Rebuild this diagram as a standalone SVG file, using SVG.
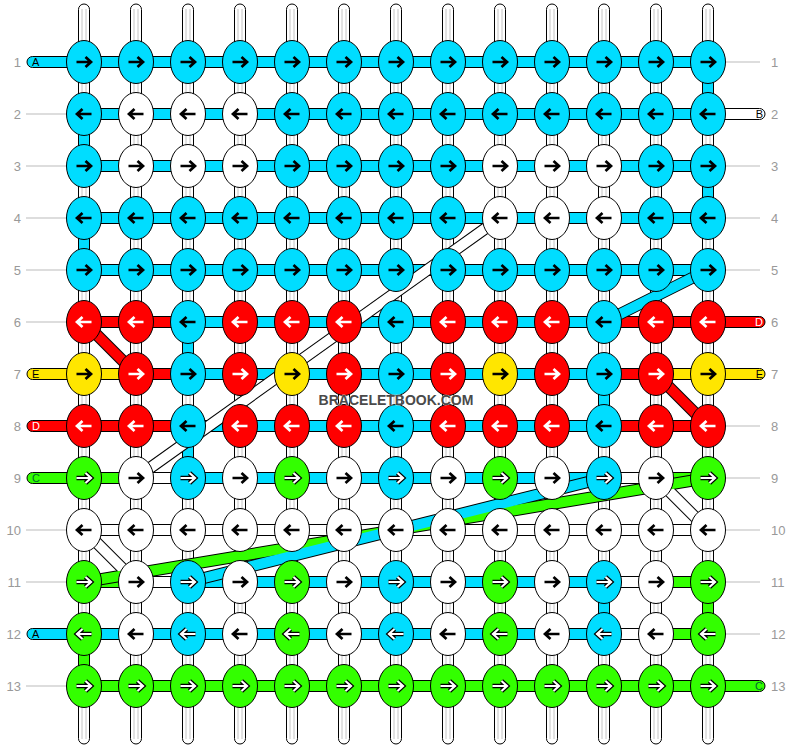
<svg xmlns="http://www.w3.org/2000/svg" xmlns:xlink="http://www.w3.org/1999/xlink" width="792" height="748" viewBox="0 0 792 748">
<style>
.C{fill:#00DDFF}.W{fill:#FFFFFF}.R{fill:#FF0000}.Y{fill:#FFE600}.G{fill:#33FF00}
.t{stroke:#000;stroke-width:1}
.ak{stroke:#000;stroke-width:2.7}.aw{stroke:#fff;stroke-width:2.7}
.gl{stroke:#bbb;stroke-width:1}
.vl{stroke:#c4c4c4;stroke-width:1}
.num{font-family:"Liberation Sans",Arial,sans-serif;font-size:13px;fill:#999}
.let{font-family:"Liberation Sans",Arial,sans-serif;font-size:11px}
.wm{font-family:"Liberation Sans",Arial,sans-serif;font-size:14px;font-weight:bold;fill:#4a4a4a}
</style>
<defs>
<ellipse id="kn" cx="0" cy="0" rx="17.5" ry="21.5" stroke="#000" stroke-width="1"/>
<path id="r" d="M-7.5,0H6.5M1.5,-5L7,0L1.5,5" fill="none"/>
<path id="l" d="M7.5,0H-6.5M-1.5,-5L-7,0L-1.5,5" fill="none"/>
<g id="ro"><use href="#r" stroke="#000" stroke-width="4.6"/><use href="#r" stroke="#fff" stroke-width="2.2"/></g>
<g id="lo"><use href="#l" stroke="#000" stroke-width="4.6"/><use href="#l" stroke="#fff" stroke-width="2.2"/></g>
<g id="vt"><rect x="-5.5" y="4" width="11" height="740" rx="5.5" fill="#fff" stroke="#000"/><line x1="-2" y1="9" x2="-2" y2="739" class="vl"/><line x1="2" y1="9" x2="2" y2="739" class="vl"/></g>
</defs>
<rect width="792" height="748" fill="#fff"/>

<g id="labels">
<g class="gl">
<line x1="26" y1="114" x2="68" y2="114"/><line x1="26" y1="166" x2="68" y2="166"/><line x1="26" y1="218" x2="68" y2="218"/><line x1="26" y1="270" x2="68" y2="270"/><line x1="26" y1="322" x2="68" y2="322"/><line x1="26" y1="530" x2="68" y2="530"/><line x1="26" y1="582" x2="68" y2="582"/><line x1="26" y1="686" x2="68" y2="686"/>
<line x1="724" y1="62" x2="760" y2="62"/><line x1="724" y1="166" x2="760" y2="166"/><line x1="724" y1="218" x2="760" y2="218"/><line x1="724" y1="270" x2="760" y2="270"/><line x1="724" y1="426" x2="760" y2="426"/><line x1="724" y1="478" x2="760" y2="478"/><line x1="724" y1="530" x2="760" y2="530"/><line x1="724" y1="582" x2="760" y2="582"/><line x1="724" y1="634" x2="760" y2="634"/>
</g>
<g class="num" text-anchor="end">
<text x="21" y="67">1</text><text x="21" y="119">2</text><text x="21" y="171">3</text><text x="21" y="223">4</text><text x="21" y="275">5</text><text x="21" y="327">6</text><text x="21" y="379">7</text><text x="21" y="431">8</text><text x="21" y="483">9</text><text x="21" y="535">10</text><text x="21" y="587">11</text><text x="21" y="639">12</text><text x="21" y="691">13</text>
</g>
<g class="num">
<text x="771" y="67">1</text><text x="771" y="119">2</text><text x="771" y="171">3</text><text x="771" y="223">4</text><text x="771" y="275">5</text><text x="771" y="327">6</text><text x="771" y="379">7</text><text x="771" y="431">8</text><text x="771" y="483">9</text><text x="771" y="535">10</text><text x="771" y="587">11</text><text x="771" y="639">12</text><text x="771" y="691">13</text>
</g>
</g>

<g id="connectors">
<g id="verticals">
<use href="#vt" x="84"/><use href="#vt" x="136"/><use href="#vt" x="188"/><use href="#vt" x="240"/><use href="#vt" x="292"/><use href="#vt" x="344"/><use href="#vt" x="396"/><use href="#vt" x="448"/><use href="#vt" x="500"/><use href="#vt" x="552"/><use href="#vt" x="604"/><use href="#vt" x="656"/><use href="#vt" x="708"/>
<g class="t">
<rect x="702.5" y="62" width="11" height="52" class="C"/>
<rect x="78.5" y="114" width="11" height="52" class="C"/>
<rect x="702.5" y="166" width="11" height="52" class="C"/>
<rect x="78.5" y="218" width="11" height="52" class="C"/>
<rect x="182.5" y="322" width="11" height="52" class="C"/>
<rect x="598.5" y="374" width="11" height="52" class="C"/>
<rect x="182.5" y="426" width="11" height="52" class="C"/>
<rect x="598.5" y="582" width="11" height="52" class="C"/>
<rect x="702.5" y="582" width="11" height="52" class="G"/>
<rect x="78.5" y="634" width="11" height="52" class="G"/>
</g>
</g>
<g id="tails" class="t">
<rect x="27" y="56.5" width="70" height="11" rx="5.5" class="C"/>
<rect x="695" y="108.5" width="70" height="11" rx="5.5" class="W"/>
<rect x="695" y="316.5" width="70" height="11" rx="5.5" class="R"/>
<rect x="27" y="368.5" width="70" height="11" rx="5.5" class="Y"/>
<rect x="695" y="368.5" width="70" height="11" rx="5.5" class="Y"/>
<rect x="27" y="420.5" width="70" height="11" rx="5.5" class="R"/>
<rect x="27" y="472.5" width="70" height="11" rx="5.5" class="G"/>
<rect x="27" y="628.5" width="70" height="11" rx="5.5" class="C"/>
<rect x="695" y="680.5" width="70" height="11" rx="5.5" class="G"/>
</g>
<g id="rows" class="t">
<rect x="84" y="56.5" width="624" height="11" class="C"/>
<rect x="84" y="108.5" width="624" height="11" class="C"/>
<rect x="84" y="160.5" width="624" height="11" class="C"/>
<rect x="84" y="212.5" width="624" height="11" class="C"/>
<rect x="84" y="264.5" width="624" height="11" class="C"/>
<rect x="84" y="316.5" width="104" height="11" class="R"/><rect x="188" y="316.5" width="416" height="11" class="C"/><rect x="604" y="316.5" width="104" height="11" class="R"/>
<rect x="84" y="368.5" width="52" height="11" class="Y"/><rect x="136" y="368.5" width="52" height="11" class="R"/><rect x="188" y="368.5" width="416" height="11" class="C"/><rect x="604" y="368.5" width="52" height="11" class="R"/><rect x="656" y="368.5" width="52" height="11" class="Y"/>
<rect x="84" y="420.5" width="104" height="11" class="R"/><rect x="188" y="420.5" width="416" height="11" class="C"/><rect x="604" y="420.5" width="104" height="11" class="R"/>
<rect x="84" y="472.5" width="52" height="11" class="G"/><rect x="136" y="472.5" width="52" height="11" class="W"/><rect x="188" y="472.5" width="416" height="11" class="C"/><rect x="604" y="472.5" width="52" height="11" class="W"/><rect x="656" y="472.5" width="52" height="11" class="G"/>
<rect x="84" y="524.5" width="624" height="11" class="W"/>
<rect x="84" y="576.5" width="52" height="11" class="G"/><rect x="136" y="576.5" width="52" height="11" class="W"/><rect x="188" y="576.5" width="416" height="11" class="C"/><rect x="604" y="576.5" width="52" height="11" class="W"/><rect x="656" y="576.5" width="52" height="11" class="G"/>
<rect x="84" y="628.5" width="520" height="11" class="C"/><rect x="604" y="628.5" width="52" height="11" class="W"/><rect x="656" y="628.5" width="52" height="11" class="G"/>
<rect x="84" y="680.5" width="624" height="11" class="G"/>
</g>
<g id="diagonals" fill="none">
<g stroke="#000" stroke-width="12">
<line x1="84" y1="322" x2="136" y2="374"/>
<line x1="656" y1="374" x2="708" y2="426"/>
<line x1="708" y1="270" x2="604" y2="322"/>
<line x1="500" y1="218" x2="136" y2="478"/>
<line x1="84" y1="530" x2="136" y2="582"/>
<line x1="656" y1="478" x2="708" y2="530"/>
<line x1="708" y1="478" x2="84" y2="582"/>
<line x1="604" y1="478" x2="188" y2="582"/>
</g>
<g stroke-width="10">
<line x1="84" y1="322" x2="136" y2="374" stroke="#FF0000"/>
<line x1="656" y1="374" x2="708" y2="426" stroke="#FF0000"/>
<line x1="708" y1="270" x2="604" y2="322" stroke="#00DDFF"/>
<line x1="500" y1="218" x2="136" y2="478" stroke="#fff"/>
<line x1="84" y1="530" x2="136" y2="582" stroke="#fff"/>
<line x1="656" y1="478" x2="708" y2="530" stroke="#fff"/>
<line x1="708" y1="478" x2="84" y2="582" stroke="#33FF00"/>
<line x1="604" y1="478" x2="188" y2="582" stroke="#00DDFF"/>
</g>
</g>
<g class="let">
<text x="32" y="66">A</text><text x="763" y="118" text-anchor="end">B</text><text x="763" y="326" text-anchor="end" fill="#fff">D</text><text x="32" y="378">E</text><text x="763" y="378" text-anchor="end">E</text><text x="32" y="430" fill="#fff">D</text><text x="32" y="482" fill="#063">C</text><text x="32" y="638">A</text><text x="763" y="690" text-anchor="end" fill="#063">C</text>
</g>
</g>

<g id="knots">
<g id="k1-1"><use href="#kn" x="84" y="62" class="C"/><use href="#r" x="84" y="62" class="ak"/></g>
<g id="k1-2"><use href="#kn" x="136" y="62" class="C"/><use href="#r" x="136" y="62" class="ak"/></g>
<g id="k1-3"><use href="#kn" x="188" y="62" class="C"/><use href="#r" x="188" y="62" class="ak"/></g>
<g id="k1-4"><use href="#kn" x="240" y="62" class="C"/><use href="#r" x="240" y="62" class="ak"/></g>
<g id="k1-5"><use href="#kn" x="292" y="62" class="C"/><use href="#r" x="292" y="62" class="ak"/></g>
<g id="k1-6"><use href="#kn" x="344" y="62" class="C"/><use href="#r" x="344" y="62" class="ak"/></g>
<g id="k1-7"><use href="#kn" x="396" y="62" class="C"/><use href="#r" x="396" y="62" class="ak"/></g>
<g id="k1-8"><use href="#kn" x="448" y="62" class="C"/><use href="#r" x="448" y="62" class="ak"/></g>
<g id="k1-9"><use href="#kn" x="500" y="62" class="C"/><use href="#r" x="500" y="62" class="ak"/></g>
<g id="k1-10"><use href="#kn" x="552" y="62" class="C"/><use href="#r" x="552" y="62" class="ak"/></g>
<g id="k1-11"><use href="#kn" x="604" y="62" class="C"/><use href="#r" x="604" y="62" class="ak"/></g>
<g id="k1-12"><use href="#kn" x="656" y="62" class="C"/><use href="#r" x="656" y="62" class="ak"/></g>
<g id="k1-13"><use href="#kn" x="708" y="62" class="C"/><use href="#r" x="708" y="62" class="ak"/></g>

<g id="k2-1"><use href="#kn" x="84" y="114" class="C"/><use href="#l" x="84" y="114" class="ak"/></g>
<g id="k2-2"><use href="#kn" x="136" y="114" class="W"/><use href="#l" x="136" y="114" class="ak"/></g>
<g id="k2-3"><use href="#kn" x="188" y="114" class="W"/><use href="#l" x="188" y="114" class="ak"/></g>
<g id="k2-4"><use href="#kn" x="240" y="114" class="W"/><use href="#l" x="240" y="114" class="ak"/></g>
<g id="k2-5"><use href="#kn" x="292" y="114" class="C"/><use href="#l" x="292" y="114" class="ak"/></g>
<g id="k2-6"><use href="#kn" x="344" y="114" class="C"/><use href="#l" x="344" y="114" class="ak"/></g>
<g id="k2-7"><use href="#kn" x="396" y="114" class="C"/><use href="#l" x="396" y="114" class="ak"/></g>
<g id="k2-8"><use href="#kn" x="448" y="114" class="C"/><use href="#l" x="448" y="114" class="ak"/></g>
<g id="k2-9"><use href="#kn" x="500" y="114" class="C"/><use href="#l" x="500" y="114" class="ak"/></g>
<g id="k2-10"><use href="#kn" x="552" y="114" class="C"/><use href="#l" x="552" y="114" class="ak"/></g>
<g id="k2-11"><use href="#kn" x="604" y="114" class="C"/><use href="#l" x="604" y="114" class="ak"/></g>
<g id="k2-12"><use href="#kn" x="656" y="114" class="C"/><use href="#l" x="656" y="114" class="ak"/></g>
<g id="k2-13"><use href="#kn" x="708" y="114" class="C"/><use href="#l" x="708" y="114" class="ak"/></g>

<g id="k3-1"><use href="#kn" x="84" y="166" class="C"/><use href="#r" x="84" y="166" class="ak"/></g>
<g id="k3-2"><use href="#kn" x="136" y="166" class="W"/><use href="#r" x="136" y="166" class="ak"/></g>
<g id="k3-3"><use href="#kn" x="188" y="166" class="W"/><use href="#r" x="188" y="166" class="ak"/></g>
<g id="k3-4"><use href="#kn" x="240" y="166" class="W"/><use href="#r" x="240" y="166" class="ak"/></g>
<g id="k3-5"><use href="#kn" x="292" y="166" class="C"/><use href="#r" x="292" y="166" class="ak"/></g>
<g id="k3-6"><use href="#kn" x="344" y="166" class="C"/><use href="#r" x="344" y="166" class="ak"/></g>
<g id="k3-7"><use href="#kn" x="396" y="166" class="C"/><use href="#r" x="396" y="166" class="ak"/></g>
<g id="k3-8"><use href="#kn" x="448" y="166" class="C"/><use href="#r" x="448" y="166" class="ak"/></g>
<g id="k3-9"><use href="#kn" x="500" y="166" class="W"/><use href="#r" x="500" y="166" class="ak"/></g>
<g id="k3-10"><use href="#kn" x="552" y="166" class="W"/><use href="#r" x="552" y="166" class="ak"/></g>
<g id="k3-11"><use href="#kn" x="604" y="166" class="W"/><use href="#r" x="604" y="166" class="ak"/></g>
<g id="k3-12"><use href="#kn" x="656" y="166" class="C"/><use href="#r" x="656" y="166" class="ak"/></g>
<g id="k3-13"><use href="#kn" x="708" y="166" class="C"/><use href="#r" x="708" y="166" class="ak"/></g>

<g id="k4-1"><use href="#kn" x="84" y="218" class="C"/><use href="#l" x="84" y="218" class="ak"/></g>
<g id="k4-2"><use href="#kn" x="136" y="218" class="C"/><use href="#l" x="136" y="218" class="ak"/></g>
<g id="k4-3"><use href="#kn" x="188" y="218" class="C"/><use href="#l" x="188" y="218" class="ak"/></g>
<g id="k4-4"><use href="#kn" x="240" y="218" class="C"/><use href="#l" x="240" y="218" class="ak"/></g>
<g id="k4-5"><use href="#kn" x="292" y="218" class="C"/><use href="#l" x="292" y="218" class="ak"/></g>
<g id="k4-6"><use href="#kn" x="344" y="218" class="C"/><use href="#l" x="344" y="218" class="ak"/></g>
<g id="k4-7"><use href="#kn" x="396" y="218" class="C"/><use href="#l" x="396" y="218" class="ak"/></g>
<g id="k4-8"><use href="#kn" x="448" y="218" class="C"/><use href="#l" x="448" y="218" class="ak"/></g>
<g id="k4-9"><use href="#kn" x="500" y="218" class="W"/><use href="#l" x="500" y="218" class="ak"/></g>
<g id="k4-10"><use href="#kn" x="552" y="218" class="W"/><use href="#l" x="552" y="218" class="ak"/></g>
<g id="k4-11"><use href="#kn" x="604" y="218" class="W"/><use href="#l" x="604" y="218" class="ak"/></g>
<g id="k4-12"><use href="#kn" x="656" y="218" class="C"/><use href="#l" x="656" y="218" class="ak"/></g>
<g id="k4-13"><use href="#kn" x="708" y="218" class="C"/><use href="#l" x="708" y="218" class="ak"/></g>

<g id="k5-1"><use href="#kn" x="84" y="270" class="C"/><use href="#r" x="84" y="270" class="ak"/></g>
<g id="k5-2"><use href="#kn" x="136" y="270" class="C"/><use href="#r" x="136" y="270" class="ak"/></g>
<g id="k5-3"><use href="#kn" x="188" y="270" class="C"/><use href="#r" x="188" y="270" class="ak"/></g>
<g id="k5-4"><use href="#kn" x="240" y="270" class="C"/><use href="#r" x="240" y="270" class="ak"/></g>
<g id="k5-5"><use href="#kn" x="292" y="270" class="C"/><use href="#r" x="292" y="270" class="ak"/></g>
<g id="k5-6"><use href="#kn" x="344" y="270" class="C"/><use href="#r" x="344" y="270" class="ak"/></g>
<g id="k5-7"><use href="#kn" x="396" y="270" class="C"/><use href="#r" x="396" y="270" class="ak"/></g>
<g id="k5-8"><use href="#kn" x="448" y="270" class="C"/><use href="#r" x="448" y="270" class="ak"/></g>
<g id="k5-9"><use href="#kn" x="500" y="270" class="C"/><use href="#r" x="500" y="270" class="ak"/></g>
<g id="k5-10"><use href="#kn" x="552" y="270" class="C"/><use href="#r" x="552" y="270" class="ak"/></g>
<g id="k5-11"><use href="#kn" x="604" y="270" class="C"/><use href="#r" x="604" y="270" class="ak"/></g>
<g id="k5-12"><use href="#kn" x="656" y="270" class="C"/><use href="#r" x="656" y="270" class="ak"/></g>
<g id="k5-13"><use href="#kn" x="708" y="270" class="C"/><use href="#r" x="708" y="270" class="ak"/></g>

<g id="k6-1"><use href="#kn" x="84" y="322" class="R"/><use href="#l" x="84" y="322" class="aw"/></g>
<g id="k6-2"><use href="#kn" x="136" y="322" class="R"/><use href="#l" x="136" y="322" class="aw"/></g>
<g id="k6-3"><use href="#kn" x="188" y="322" class="C"/><use href="#l" x="188" y="322" class="ak"/></g>
<g id="k6-4"><use href="#kn" x="240" y="322" class="R"/><use href="#l" x="240" y="322" class="aw"/></g>
<g id="k6-5"><use href="#kn" x="292" y="322" class="R"/><use href="#l" x="292" y="322" class="aw"/></g>
<g id="k6-6"><use href="#kn" x="344" y="322" class="R"/><use href="#l" x="344" y="322" class="aw"/></g>
<g id="k6-7"><use href="#kn" x="396" y="322" class="C"/><use href="#l" x="396" y="322" class="ak"/></g>
<g id="k6-8"><use href="#kn" x="448" y="322" class="R"/><use href="#l" x="448" y="322" class="aw"/></g>
<g id="k6-9"><use href="#kn" x="500" y="322" class="R"/><use href="#l" x="500" y="322" class="aw"/></g>
<g id="k6-10"><use href="#kn" x="552" y="322" class="R"/><use href="#l" x="552" y="322" class="aw"/></g>
<g id="k6-11"><use href="#kn" x="604" y="322" class="C"/><use href="#l" x="604" y="322" class="ak"/></g>
<g id="k6-12"><use href="#kn" x="656" y="322" class="R"/><use href="#l" x="656" y="322" class="aw"/></g>
<g id="k6-13"><use href="#kn" x="708" y="322" class="R"/><use href="#l" x="708" y="322" class="aw"/></g>

<g id="k7-1"><use href="#kn" x="84" y="374" class="Y"/><use href="#r" x="84" y="374" class="ak"/></g>
<g id="k7-2"><use href="#kn" x="136" y="374" class="R"/><use href="#r" x="136" y="374" class="aw"/></g>
<g id="k7-3"><use href="#kn" x="188" y="374" class="C"/><use href="#r" x="188" y="374" class="ak"/></g>
<g id="k7-4"><use href="#kn" x="240" y="374" class="R"/><use href="#r" x="240" y="374" class="aw"/></g>
<g id="k7-5"><use href="#kn" x="292" y="374" class="Y"/><use href="#r" x="292" y="374" class="ak"/></g>
<g id="k7-6"><use href="#kn" x="344" y="374" class="R"/><use href="#r" x="344" y="374" class="aw"/></g>
<g id="k7-7"><use href="#kn" x="396" y="374" class="C"/><use href="#r" x="396" y="374" class="ak"/></g>
<g id="k7-8"><use href="#kn" x="448" y="374" class="R"/><use href="#r" x="448" y="374" class="aw"/></g>
<g id="k7-9"><use href="#kn" x="500" y="374" class="Y"/><use href="#r" x="500" y="374" class="ak"/></g>
<g id="k7-10"><use href="#kn" x="552" y="374" class="R"/><use href="#r" x="552" y="374" class="aw"/></g>
<g id="k7-11"><use href="#kn" x="604" y="374" class="C"/><use href="#r" x="604" y="374" class="ak"/></g>
<g id="k7-12"><use href="#kn" x="656" y="374" class="R"/><use href="#r" x="656" y="374" class="aw"/></g>
<g id="k7-13"><use href="#kn" x="708" y="374" class="Y"/><use href="#r" x="708" y="374" class="ak"/></g>

<g id="k8-1"><use href="#kn" x="84" y="426" class="R"/><use href="#l" x="84" y="426" class="aw"/></g>
<g id="k8-2"><use href="#kn" x="136" y="426" class="R"/><use href="#l" x="136" y="426" class="aw"/></g>
<g id="k8-3"><use href="#kn" x="188" y="426" class="C"/><use href="#l" x="188" y="426" class="ak"/></g>
<g id="k8-4"><use href="#kn" x="240" y="426" class="R"/><use href="#l" x="240" y="426" class="aw"/></g>
<g id="k8-5"><use href="#kn" x="292" y="426" class="R"/><use href="#l" x="292" y="426" class="aw"/></g>
<g id="k8-6"><use href="#kn" x="344" y="426" class="R"/><use href="#l" x="344" y="426" class="aw"/></g>
<g id="k8-7"><use href="#kn" x="396" y="426" class="C"/><use href="#l" x="396" y="426" class="ak"/></g>
<g id="k8-8"><use href="#kn" x="448" y="426" class="R"/><use href="#l" x="448" y="426" class="aw"/></g>
<g id="k8-9"><use href="#kn" x="500" y="426" class="R"/><use href="#l" x="500" y="426" class="aw"/></g>
<g id="k8-10"><use href="#kn" x="552" y="426" class="R"/><use href="#l" x="552" y="426" class="aw"/></g>
<g id="k8-11"><use href="#kn" x="604" y="426" class="C"/><use href="#l" x="604" y="426" class="ak"/></g>
<g id="k8-12"><use href="#kn" x="656" y="426" class="R"/><use href="#l" x="656" y="426" class="aw"/></g>
<g id="k8-13"><use href="#kn" x="708" y="426" class="R"/><use href="#l" x="708" y="426" class="aw"/></g>

<g id="k9-1"><use href="#kn" x="84" y="478" class="G"/><use href="#ro" x="84" y="478"/></g>
<g id="k9-2"><use href="#kn" x="136" y="478" class="W"/><use href="#r" x="136" y="478" class="ak"/></g>
<g id="k9-3"><use href="#kn" x="188" y="478" class="C"/><use href="#ro" x="188" y="478"/></g>
<g id="k9-4"><use href="#kn" x="240" y="478" class="W"/><use href="#r" x="240" y="478" class="ak"/></g>
<g id="k9-5"><use href="#kn" x="292" y="478" class="G"/><use href="#ro" x="292" y="478"/></g>
<g id="k9-6"><use href="#kn" x="344" y="478" class="W"/><use href="#r" x="344" y="478" class="ak"/></g>
<g id="k9-7"><use href="#kn" x="396" y="478" class="C"/><use href="#ro" x="396" y="478"/></g>
<g id="k9-8"><use href="#kn" x="448" y="478" class="W"/><use href="#r" x="448" y="478" class="ak"/></g>
<g id="k9-9"><use href="#kn" x="500" y="478" class="G"/><use href="#ro" x="500" y="478"/></g>
<g id="k9-10"><use href="#kn" x="552" y="478" class="W"/><use href="#r" x="552" y="478" class="ak"/></g>
<g id="k9-11"><use href="#kn" x="604" y="478" class="C"/><use href="#ro" x="604" y="478"/></g>
<g id="k9-12"><use href="#kn" x="656" y="478" class="W"/><use href="#r" x="656" y="478" class="ak"/></g>
<g id="k9-13"><use href="#kn" x="708" y="478" class="G"/><use href="#ro" x="708" y="478"/></g>

<g id="k10-1"><use href="#kn" x="84" y="530" class="W"/><use href="#l" x="84" y="530" class="ak"/></g>
<g id="k10-2"><use href="#kn" x="136" y="530" class="W"/><use href="#l" x="136" y="530" class="ak"/></g>
<g id="k10-3"><use href="#kn" x="188" y="530" class="W"/><use href="#l" x="188" y="530" class="ak"/></g>
<g id="k10-4"><use href="#kn" x="240" y="530" class="W"/><use href="#l" x="240" y="530" class="ak"/></g>
<g id="k10-5"><use href="#kn" x="292" y="530" class="W"/><use href="#l" x="292" y="530" class="ak"/></g>
<g id="k10-6"><use href="#kn" x="344" y="530" class="W"/><use href="#l" x="344" y="530" class="ak"/></g>
<g id="k10-7"><use href="#kn" x="396" y="530" class="W"/><use href="#l" x="396" y="530" class="ak"/></g>
<g id="k10-8"><use href="#kn" x="448" y="530" class="W"/><use href="#l" x="448" y="530" class="ak"/></g>
<g id="k10-9"><use href="#kn" x="500" y="530" class="W"/><use href="#l" x="500" y="530" class="ak"/></g>
<g id="k10-10"><use href="#kn" x="552" y="530" class="W"/><use href="#l" x="552" y="530" class="ak"/></g>
<g id="k10-11"><use href="#kn" x="604" y="530" class="W"/><use href="#l" x="604" y="530" class="ak"/></g>
<g id="k10-12"><use href="#kn" x="656" y="530" class="W"/><use href="#l" x="656" y="530" class="ak"/></g>
<g id="k10-13"><use href="#kn" x="708" y="530" class="W"/><use href="#l" x="708" y="530" class="ak"/></g>

<g id="k11-1"><use href="#kn" x="84" y="582" class="G"/><use href="#ro" x="84" y="582"/></g>
<g id="k11-2"><use href="#kn" x="136" y="582" class="W"/><use href="#r" x="136" y="582" class="ak"/></g>
<g id="k11-3"><use href="#kn" x="188" y="582" class="C"/><use href="#ro" x="188" y="582"/></g>
<g id="k11-4"><use href="#kn" x="240" y="582" class="W"/><use href="#r" x="240" y="582" class="ak"/></g>
<g id="k11-5"><use href="#kn" x="292" y="582" class="G"/><use href="#ro" x="292" y="582"/></g>
<g id="k11-6"><use href="#kn" x="344" y="582" class="W"/><use href="#r" x="344" y="582" class="ak"/></g>
<g id="k11-7"><use href="#kn" x="396" y="582" class="C"/><use href="#ro" x="396" y="582"/></g>
<g id="k11-8"><use href="#kn" x="448" y="582" class="W"/><use href="#r" x="448" y="582" class="ak"/></g>
<g id="k11-9"><use href="#kn" x="500" y="582" class="G"/><use href="#ro" x="500" y="582"/></g>
<g id="k11-10"><use href="#kn" x="552" y="582" class="W"/><use href="#r" x="552" y="582" class="ak"/></g>
<g id="k11-11"><use href="#kn" x="604" y="582" class="C"/><use href="#ro" x="604" y="582"/></g>
<g id="k11-12"><use href="#kn" x="656" y="582" class="W"/><use href="#r" x="656" y="582" class="ak"/></g>
<g id="k11-13"><use href="#kn" x="708" y="582" class="G"/><use href="#ro" x="708" y="582"/></g>

<g id="k12-1"><use href="#kn" x="84" y="634" class="G"/><use href="#lo" x="84" y="634"/></g>
<g id="k12-2"><use href="#kn" x="136" y="634" class="W"/><use href="#l" x="136" y="634" class="ak"/></g>
<g id="k12-3"><use href="#kn" x="188" y="634" class="C"/><use href="#lo" x="188" y="634"/></g>
<g id="k12-4"><use href="#kn" x="240" y="634" class="W"/><use href="#l" x="240" y="634" class="ak"/></g>
<g id="k12-5"><use href="#kn" x="292" y="634" class="G"/><use href="#lo" x="292" y="634"/></g>
<g id="k12-6"><use href="#kn" x="344" y="634" class="W"/><use href="#l" x="344" y="634" class="ak"/></g>
<g id="k12-7"><use href="#kn" x="396" y="634" class="C"/><use href="#lo" x="396" y="634"/></g>
<g id="k12-8"><use href="#kn" x="448" y="634" class="W"/><use href="#l" x="448" y="634" class="ak"/></g>
<g id="k12-9"><use href="#kn" x="500" y="634" class="G"/><use href="#lo" x="500" y="634"/></g>
<g id="k12-10"><use href="#kn" x="552" y="634" class="W"/><use href="#l" x="552" y="634" class="ak"/></g>
<g id="k12-11"><use href="#kn" x="604" y="634" class="C"/><use href="#lo" x="604" y="634"/></g>
<g id="k12-12"><use href="#kn" x="656" y="634" class="W"/><use href="#l" x="656" y="634" class="ak"/></g>
<g id="k12-13"><use href="#kn" x="708" y="634" class="G"/><use href="#lo" x="708" y="634"/></g>

<g id="k13-1"><use href="#kn" x="84" y="686" class="G"/><use href="#ro" x="84" y="686"/></g>
<g id="k13-2"><use href="#kn" x="136" y="686" class="G"/><use href="#ro" x="136" y="686"/></g>
<g id="k13-3"><use href="#kn" x="188" y="686" class="G"/><use href="#ro" x="188" y="686"/></g>
<g id="k13-4"><use href="#kn" x="240" y="686" class="G"/><use href="#ro" x="240" y="686"/></g>
<g id="k13-5"><use href="#kn" x="292" y="686" class="G"/><use href="#ro" x="292" y="686"/></g>
<g id="k13-6"><use href="#kn" x="344" y="686" class="G"/><use href="#ro" x="344" y="686"/></g>
<g id="k13-7"><use href="#kn" x="396" y="686" class="G"/><use href="#ro" x="396" y="686"/></g>
<g id="k13-8"><use href="#kn" x="448" y="686" class="G"/><use href="#ro" x="448" y="686"/></g>
<g id="k13-9"><use href="#kn" x="500" y="686" class="G"/><use href="#ro" x="500" y="686"/></g>
<g id="k13-10"><use href="#kn" x="552" y="686" class="G"/><use href="#ro" x="552" y="686"/></g>
<g id="k13-11"><use href="#kn" x="604" y="686" class="G"/><use href="#ro" x="604" y="686"/></g>
<g id="k13-12"><use href="#kn" x="656" y="686" class="G"/><use href="#ro" x="656" y="686"/></g>
<g id="k13-13"><use href="#kn" x="708" y="686" class="G"/><use href="#ro" x="708" y="686"/></g>
</g>

<text x="396" y="405" text-anchor="middle" class="wm" stroke="#fff" stroke-width="0.6" paint-order="stroke">BRACELETBOOK.COM</text>
</svg>
